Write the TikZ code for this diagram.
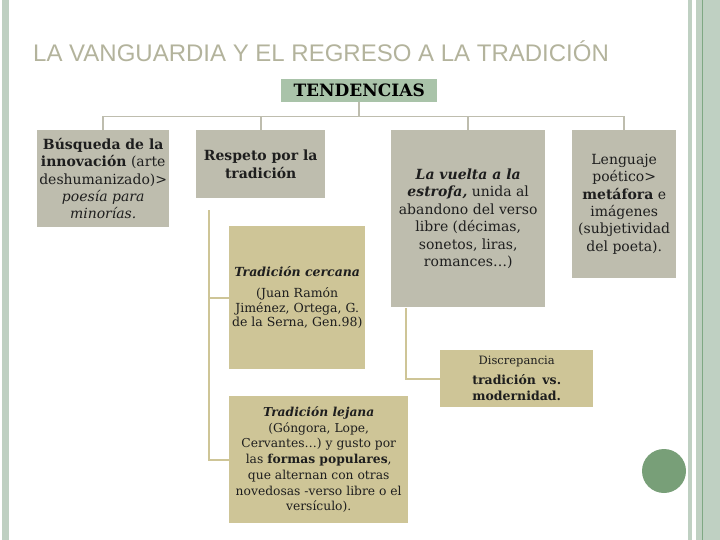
\documentclass[tikz,border=0pt]{standalone}
\usepackage{fontspec}
\setmainfont{DejaVu Serif}
\newfontfamily\titrefont{Liberation Sans}
\usetikzlibrary{calc}
\definecolor{grisbox}{HTML}{BEBDAE}
\definecolor{kaki}{HTML}{CEC597}
\definecolor{vertbox}{HTML}{A9C3A9}
\definecolor{titre}{HTML}{B3B39C}
\definecolor{bord}{HTML}{BFD0C2}
\definecolor{bordfonce}{HTML}{7FA883}
\definecolor{pastille}{HTML}{789F78}
\definecolor{encre}{HTML}{1E1E1E}
\tikzstyle{gris} = [rectangle, fill=grisbox, inner sep=0pt, align=center, anchor=north west, text=encre, font=\fontsize{14}{17.4}\selectfont]
\tikzstyle{kakibox} = [rectangle, fill=kaki, inner sep=0pt, align=center, anchor=north west, text=encre]
\tikzstyle{trait} = [draw=grisbox, line width=1.8pt]
\tikzstyle{traitkaki} = [draw=kaki, line width=1.8pt]

\begin{document}
\begin{tikzpicture}[x=1pt, y=-1pt]

        \useasboundingbox (0,0) rectangle (720,540);

        %% borders
        \fill[bord] (2,0) rectangle (9,540);
        \fill[bord] (688,0) rectangle (692,540);
        \fill[bord] (696,0) rectangle (720,540);
        \draw[bordfonce, line width=1.2pt] (702.6,0) -- (702.6,540);
        \node (rond) [circle, fill=pastille, minimum size=44pt, inner sep=0pt] at (664,471) {};

        %% title
        \node (titre) [anchor=base west, inner sep=0pt, text=titre, font=\titrefont\fontsize{24}{24}\selectfont] at (33,62) {LA VANGUARDIA Y EL REGRESO A LA TRADICIÓN};

        %% entities
        \node (T) [rectangle, fill=vertbox, inner sep=0pt, anchor=north west, minimum width=156pt, minimum height=23pt, font=\bfseries\fontsize{17}{17}\selectfont] at (281,79) {TENDENCIAS};

        \node (B1) [gris, minimum width=132pt, minimum height=97pt] at (37,130) {\textbf{Búsqueda de la}\\
            \textbf{innovación} (arte\\
            deshumanizado)>\\
            \textit{poesía para}\\
            \textit{minorías.}};
        \node (B2) [gris, minimum width=129pt, minimum height=68pt] at (196,130) {\textbf{Respeto por la}\\
            \textbf{tradición}};
        \node (B3) [gris, minimum width=154pt, minimum height=177pt] at (391,130) {\textbf{\textit{La vuelta a la}}\\
            \textbf{\textit{estrofa,}} unida al\\
            abandono del verso\\
            libre (décimas,\\
            sonetos, liras,\\
            romances\dots)};
        \node (B4) [gris, minimum width=104pt, minimum height=148pt] at (572,130) {Lenguaje\\
            poético>\\
            \textbf{metáfora} e\\
            imágenes\\
            (subjetividad\\
            del poeta).};

        \node (C) [kakibox, minimum width=136pt, minimum height=143pt, font=\fontsize{12.5}{14.8}\selectfont] at (229,226) {\textbf{\textit{Tradición cercana}}\\[6pt]
            (Juan Ramón\\
            Jiménez, Ortega, G.\\
            de la Serna, Gen.98)};
        \node (L) [kakibox, minimum width=179pt, minimum height=127pt, font=\fontsize{12.3}{15.7}\selectfont] at (229,396) {\textbf{\textit{Tradición lejana}}\\
            (Góngora, Lope,\\
            Cervantes\dots) y gusto por\\
            las \textbf{formas populares},\\
            que alternan con otras\\
            novedosas -verso libre o el\\
            versículo).};
        \node (D) [kakibox, minimum width=153pt, minimum height=57pt, font=\fontsize{12.5}{16}\selectfont] at (440,350) {{\fontsize{11.5}{16}\selectfont Discrepancia}\\[4pt]
            \textbf{tradición\, vs.}\\
            \textbf{modernidad.}};

        %% relations
        \coordinate (barre) at (0,116.5);
        \draw[trait] (T.south) -- (T.south |- barre);
        \draw[trait] (B1.north) -- (B1.north |- barre) -| (B4.north);
        \draw[trait] (B2.north) -- (B2.north |- barre);
        \draw[trait] (B3.north) -- (B3.north |- barre);

        \coordinate (s2) at ($(B2.south west) + (13,12)$);
        \draw[traitkaki] (s2) |- (C.west);
        \draw[traitkaki] (s2) |- (L.west);
        \coordinate (s3) at ($(B3.south west) + (15,1)$);
        \draw[traitkaki] (s3) |- (D.west);

\end{tikzpicture}
\end{document}
